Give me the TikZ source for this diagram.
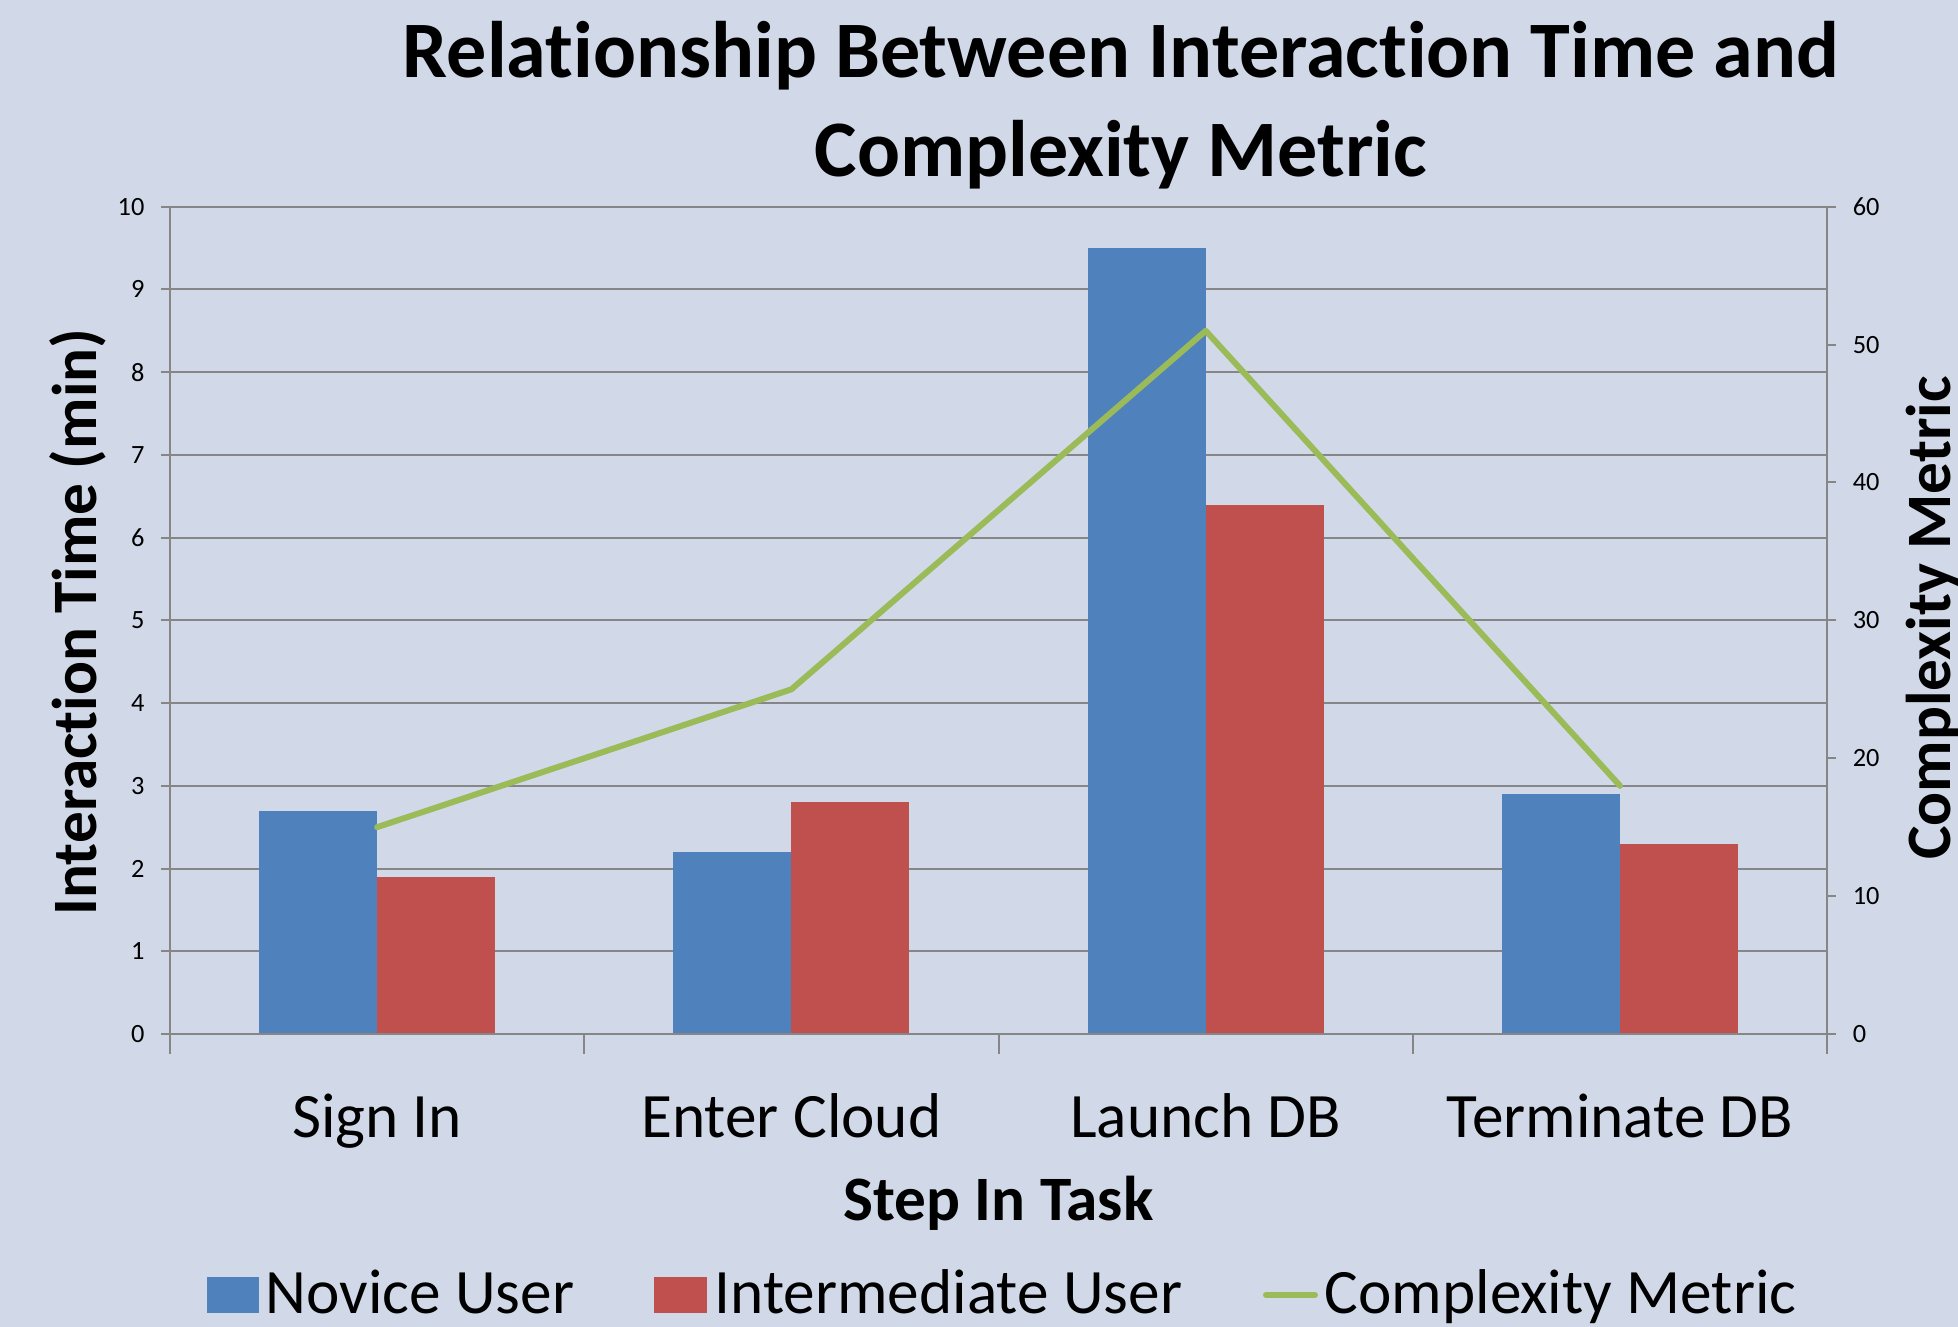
\documentclass[tikz,border=0pt]{standalone}
\usepackage{fontspec}
\setmainfont{Carlito}[Ligatures=NoCommon]
\usepackage{xcolor}
\definecolor{chartbg}{RGB}{209,217,232}
\definecolor{noviceblue}{RGB}{79,129,189}
\definecolor{intermred}{RGB}{192,80,77}
\definecolor{metricgreen}{RGB}{155,187,89}
\definecolor{gridgray}{RGB}{134,134,134}
\newcommand{\barw}{0.2848}

\begin{document}
\begin{tikzpicture}[x=0.1mm, y=-0.1mm,
  every node/.style={inner sep=0pt},
  titletext/.style={font=\fontsize{22.8}{27}\selectfont\bfseries, anchor=base},
  axistitle/.style={font=\fontsize{18}{21.6}\selectfont\bfseries, anchor=base},
  catlabel/.style={font=\fontsize{18}{21.6}\selectfont, anchor=base},
  legendtext/.style={font=\fontsize{18}{21.6}\selectfont, anchor=base west},
  ticklabel/.style={font=\fontsize{7.5}{9}\selectfont},
  gridrule/.style={draw=gridgray, line width=0.2mm},
  novice/.style={fill=noviceblue},
  interm/.style={fill=intermred},
  metric/.style={draw=metricgreen, line width=0.6mm, line cap=round, line join=round},
]
\useasboundingbox (0,0) rectangle (1958,1327);
\fill[chartbg] (0,0) rectangle (1958,1327);

\node[titletext] at (1121, 78) (title1) {Relationship Between Interaction Time and};
\node[titletext] at (1121,177) (title2) {Complexity Metric};

\node[axistitle, rotate=90] at (96,622)   (ytitle)  {Interaction Time (min)};
\node[axistitle, rotate=90] at (1950,618) (y2title) {Complexity Metric};

% plot area: one x unit per step, one y unit per minute
\begin{scope}[shift={(170,1034)}, x=41.43mm, y=8.273mm]
\foreach \k in {1,...,10}
  \draw[gridrule] (0,\k) -- (4,\k);

\foreach \i/\nov/\mid in {1/2.7/1.9, 2/2.2/2.8, 3/9.5/6.4, 4/2.9/2.3} {
  \fill[novice] (\i-0.5-\barw,0) rectangle (\i-0.5,\nov);
  \fill[interm] (\i-0.5,0) rectangle (\i-0.5+\barw,\mid);
}

\draw[gridrule] (0,-0.242) -- (0,10);
\draw[gridrule] (4,-0.242) -- (4,10);
\draw[gridrule] (0,0) -- (4,0);
\foreach \i in {1,2,3}
  \draw[gridrule] (\i,0) -- (\i,-0.242);
\foreach \k in {0,...,10} {
  \draw[gridrule] (-0.0217,\k) -- (0,\k);
  \node[ticklabel, anchor=east] at (-0.06,\k) (yl\k) {\k};
}
\foreach \v in {0,10,...,60} {
  \draw[gridrule] (4,\v/6) -- (4.0217,\v/6);
  \node[ticklabel, anchor=west] at (4.06,\v/6) (yr\v) {\v};
}

% complexity metric on the right axis (60 = 10 units)
\coordinate (m1) at (0.5,15/6);
\coordinate (m2) at (1.5,25/6);
\coordinate (m3) at (2.5,51/6);
\coordinate (m4) at (3.5,18/6);
\draw[metric] (m1) -- (m2) -- (m3) -- (m4);

\node[catlabel] at (0.5,-1.245) (signin)    {Sign In};
\node[catlabel] at (1.5,-1.245) (entercloud) {Enter Cloud};
\node[catlabel] at (2.5,-1.245) (launchdb)  {Launch DB};
\node[catlabel] at (3.5,-1.245) (termdb)    {Terminate DB};
\node[axistitle] at (2,-2.26) (xtitle) {Step In Task};
\end{scope}

% legend
\fill[novice] (207,1277) rectangle (259,1313);
\node[legendtext] at (265,1313) (legnovice) {Novice User};
\fill[interm] (654,1277) rectangle (707,1313);
\node[legendtext] at (714,1313) (leginterm) {Intermediate User};
\coordinate (lm1) at (1266,1295);
\coordinate (lm2) at (1315,1295);
\draw[metric] (lm1) -- (lm2);
\node[legendtext] at (1324,1313) (legmetric) {Complexity Metric};
\end{tikzpicture}
\end{document}
